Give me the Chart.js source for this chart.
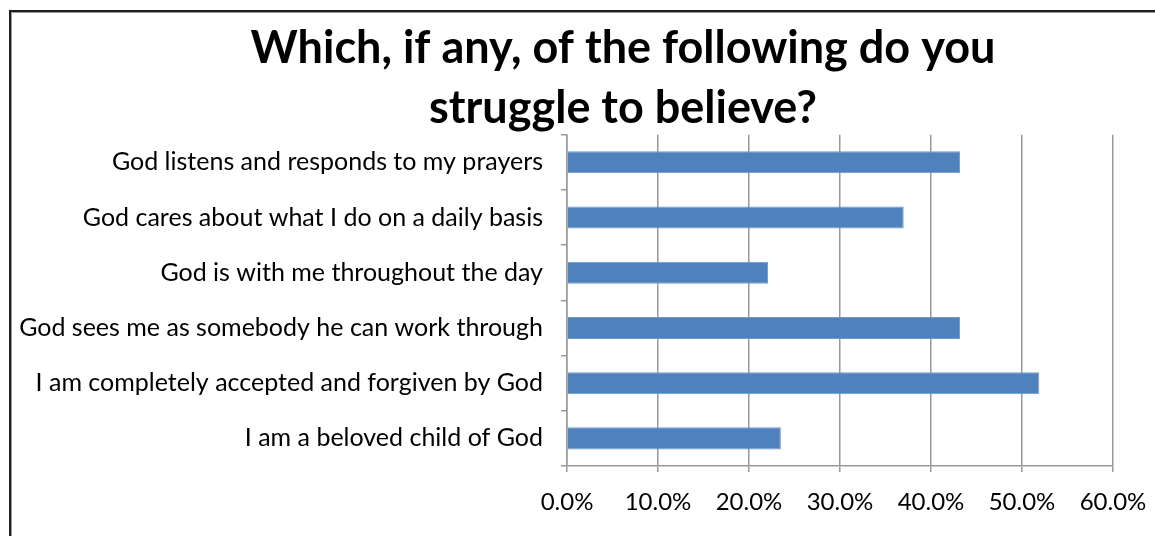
<!DOCTYPE html>
<html>
<head>
<meta charset="utf-8">
<script src="https://cdn.jsdelivr.net/npm/chart.js@4/dist/chart.umd.min.js"></script>
<style>
  html, body { margin: 0; padding: 0; background: #fff; overflow: hidden; }
  #frame {
    position: absolute; left: 9px; top: 10px; width: 1300px; height: 700px;
    border: 2px solid #1e1e1e; box-shadow: inset 1px 1px 0 #9a9a9a;
  }
  #wrap { position: absolute; left: 0; top: 0; width: 1246px; height: 536px; }
</style>
</head>
<body>
<div id="frame"></div>
<div id="wrap"><canvas id="chart"></canvas></div>
<script>
const titleLines = ['Which, if any, of the following do you', 'struggle to believe?'];
const categories = [
  'God listens and responds to my prayers',
  'God cares about what I do on a daily basis',
  'God is with me throughout the day',
  'God sees me as somebody he can work through',
  'I am completely accepted and forgiven by God',
  'I am a beloved child of God'
];
const percentages = [43.2, 37.0, 22.1, 43.2, 51.9, 23.5];
const axisMin = 0, axisMax = 60, axisStep = 10;

const fontFamily = 'Lato, "Open Sans", sans-serif';
const gridGray = '#999999';

new Chart(document.getElementById('chart').getContext('2d'), {
  type: 'bar',
  data: {
    labels: categories,
    datasets: [{
      data: percentages,
      backgroundColor: '#4F81BD',
      borderColor: '#6E98CC',
      borderWidth: 1,
      barPercentage: 0.4,
      categoryPercentage: 1
    }]
  },
  options: {
    indexAxis: 'y',
    responsive: true,
    maintainAspectRatio: false,
    animation: false,
    layout: { padding: 0 },
    plugins: {
      legend: { display: false },
      tooltip: { enabled: false },
      title: {
        display: true,
        text: titleLines,
        color: '#000',
        font: { family: fontFamily, size: 45, weight: 'bold', lineHeight: 1.33 },
        padding: { top: 19, bottom: -4 }
      }
    },
    scales: {
      x: {
        min: axisMin,
        max: axisMax,
        ticks: {
          stepSize: axisStep,
          color: '#000',
          padding: 16,
          font: { family: fontFamily, size: 24 },
          callback: v => v.toFixed(1) + '%'
        },
        grid: { color: gridGray, lineWidth: 1.5, tickLength: 6 },
        border: { color: gridGray, width: 1.5 },
        afterFit: s => { s.height = 70; }
      },
      y: {
        ticks: {
          color: '#000',
          padding: 18,
          font: { family: fontFamily, size: 25 }
        },
        grid: { drawOnChartArea: false, color: gridGray, lineWidth: 1.5, tickLength: 6, offset: true },
        border: { color: gridGray, width: 1.5 },
        afterFit: s => { s.width = 567; }
      },
      // empty right-hand spacer so the plot ends at 60% while the title stays centred on the frame
      spacer: {
        type: 'category',
        axis: 'y',
        position: 'right',
        ticks: { display: false },
        grid: { display: false },
        border: { display: false },
        afterFit: s => { s.width = 133; }
      }
    }
  }
});
</script>
</body>
</html>
